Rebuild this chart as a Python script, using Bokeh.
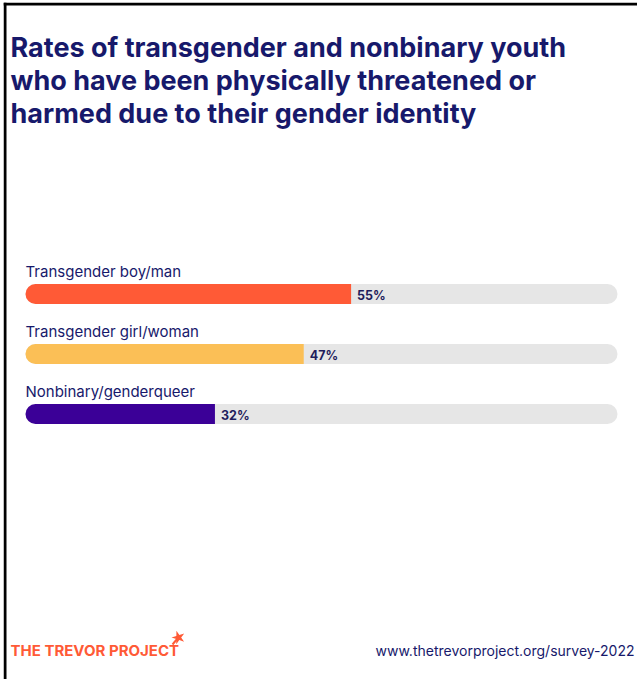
from bokeh.plotting import figure
from bokeh.models import Range1d
from bokeh.core.properties import value
from bokeh.embed import file_html
from bokeh.resources import INLINE

# ---- data ----
categories = ["Transgender boy/man", "Transgender girl/woman", "Nonbinary/genderqueer"]
percents = [55, 47, 32]
bar_colors = ["#ff5a36", "#fbbf56", "#3b0097"]
title_lines = ["Rates of transgender and nonbinary youth",
               "who have been physically threatened or",
               "harmed due to their gender identity"]
brand = "THE TREVOR PROJECT"
source_url = "www.thetrevorproject.org/survey-2022"

# ---- layout (page pixels) ----
OX, OY = 3, 2            # page position of figure origin
W, H = 637 - OX, 679 - OY
TRACK_L, TRACK_R = 25, 617
PX = (TRACK_R - TRACK_L) / 100.0
x0 = (OX - TRACK_L) / PX
x1 = (637 - TRACK_L) / PX

def px(xpage):
    return (xpage - TRACK_L) / PX

NAVY = "#17196b"
FONT = value("Inter")

p = figure(width=W, height=H, output_backend="svg", toolbar_location=None,
           x_range=Range1d(x0, x1), y_range=Range1d(H, 0),
           min_border=0, outline_line_color=None,
           background_fill_color="white", border_fill_color="white")
p.axis.visible = False
p.xgrid.visible = False
p.ygrid.visible = False
p.styles = {"margin-left": f"{OX}px", "margin-top": f"{OY}px"}

# frame border (top + left)
p.segment(x0=[x0], y0=[1.5], x1=[x1], y1=[1.5], line_color="black", line_width=3)
p.segment(x0=[x0 + 1.5 / PX], y0=[0], x1=[x0 + 1.5 / PX], y1=[H],
          line_color="black", line_width=3)

# title
for i, line in enumerate(title_lines):
    p.text(x=[px(10)], y=[47 + 33 * i - OY], text=[line],
           text_font=FONT, text_font_style="bold", text_font_size="27px",
           text_color=NAVY, text_baseline="middle", text_align="left")

# bars
for i, (cat, pct, col) in enumerate(zip(categories, percents, bar_colors)):
    yc = 293.5 + 60 * i - OY
    p.hbar(y=[yc], left=[0], right=[100], height=20, fill_color="#e6e6e6",
           line_color=None, border_radius=10)
    p.hbar(y=[yc], left=[0], right=[pct], height=20, fill_color=col,
           line_color=None, border_radius=(10, 0, 0, 10))
    p.text(x=[pct], y=[yc + 1], text=[f"{pct}%"], x_offset=6,
           text_font=FONT, text_font_style="bold", text_font_size="12.5px",
           text_color="#1f1d5c", text_baseline="middle", text_align="left")
    p.text(x=[0], y=[yc - 23], text=[cat],
           text_font=FONT, text_font_size="15px",
           text_color=NAVY, text_baseline="middle", text_align="left")

# footer
p.text(x=[px(10)], y=[650 - OY], text=[brand],
       text_font=FONT, text_font_style="bold", text_font_size="15px",
       text_color="#ff5a36", text_baseline="middle", text_align="left")
p.segment(x0=[px(172)], y0=[644 - OY], x1=[px(177)], y1=[638 - OY],
          line_color="#ff5a36", line_width=2)
p.scatter(x=[px(178)], y=[637 - OY], marker="star", size=14,
          fill_color="#ff5a36", line_color=None, angle=0.3)
p.text(x=[px(634)], y=[650 - OY], text=[source_url],
       text_font=FONT, text_font_size="14px",
       text_color=NAVY, text_baseline="middle", text_align="right")

open("out.html", "w").write(file_html(p, INLINE))
